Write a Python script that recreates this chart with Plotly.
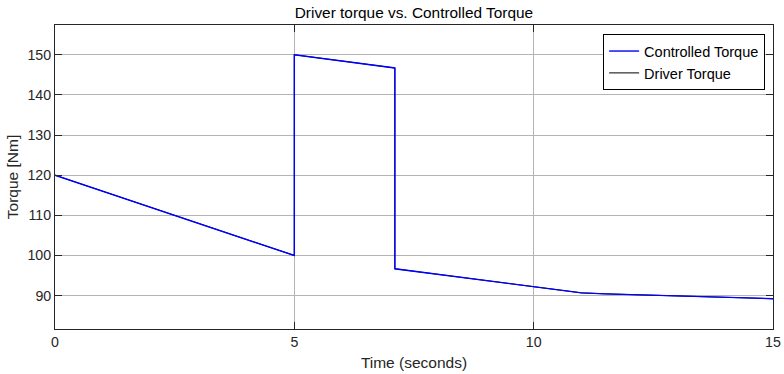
import plotly.graph_objects as go

# Torque profiles over time (seconds, Nm)
time_s = [0.0, 5.0, 5.0, 7.1, 7.1, 10.0, 10.5, 11.0, 11.5, 13.0, 15.0]
controlled_torque = [120.0, 100.0, 150.0, 146.7, 96.7, 92.2, 91.3, 90.7, 90.45, 89.9, 89.25]
driver_torque = [120.0, 100.0, 150.0, 146.7, 96.7, 92.2, 91.3, 90.7, 90.45, 89.9, 89.25]

x_ticks = [0, 5, 10, 15]
y_ticks = [90, 100, 110, 120, 130, 140, 150]

FONT = "Liberation Sans, Arial, Helvetica, sans-serif"
GRID = "#b4b4b4"
TXT = "#262626"

fig = go.Figure()
# driver torque drawn first so the controlled curve sits on top
fig.add_trace(go.Scatter(x=time_s, y=driver_torque, mode="lines",
                         name="Driver Torque", legendrank=2,
                         line=dict(color="#000000", width=1.0)))
fig.add_trace(go.Scatter(x=time_s, y=controlled_torque, mode="lines",
                         name="Controlled Torque", legendrank=1,
                         line=dict(color="#0000ff", width=1.4)))

axis_common = dict(
    showline=True, linecolor="#262626", linewidth=1, mirror="ticks",
    ticks="inside", ticklen=7, tickcolor="#262626", tickwidth=1,
    showgrid=True, gridcolor=GRID, gridwidth=1, zeroline=False,
    automargin=False,
    tickfont=dict(family=FONT, size=14.2, color=TXT),
)

fig.update_layout(
    width=784, height=374,
    margin=dict(l=55, r=11, t=25, b=45),
    paper_bgcolor="white", plot_bgcolor="white",
    title=dict(text="Driver torque vs. Controlled Torque",
               x=0.528, xanchor="center", y=0.965, yanchor="middle",
               font=dict(family=FONT, size=15.4, color="#000000"),
               automargin=False),
    xaxis=dict(range=[0, 15], tickvals=x_ticks,
               title=dict(text="Time (seconds)", standoff=8,
                          font=dict(family=FONT, size=15.5, color=TXT)),
               **axis_common),
    yaxis=dict(range=[81.7, 157.4], tickvals=y_ticks,
               title=dict(text="Torque [Nm]", standoff=5,
                          font=dict(family=FONT, size=15.5, color=TXT)),
               **axis_common),
    legend=dict(x=0.989, xanchor="right", y=0.97, yanchor="top",
                bgcolor="white", bordercolor="#000000", borderwidth=1,
                font=dict(family=FONT, size=14.5, color="#000000"),
                itemwidth=30, tracegroupgap=0),
    showlegend=True,
)

fig.write_html("out.html")
